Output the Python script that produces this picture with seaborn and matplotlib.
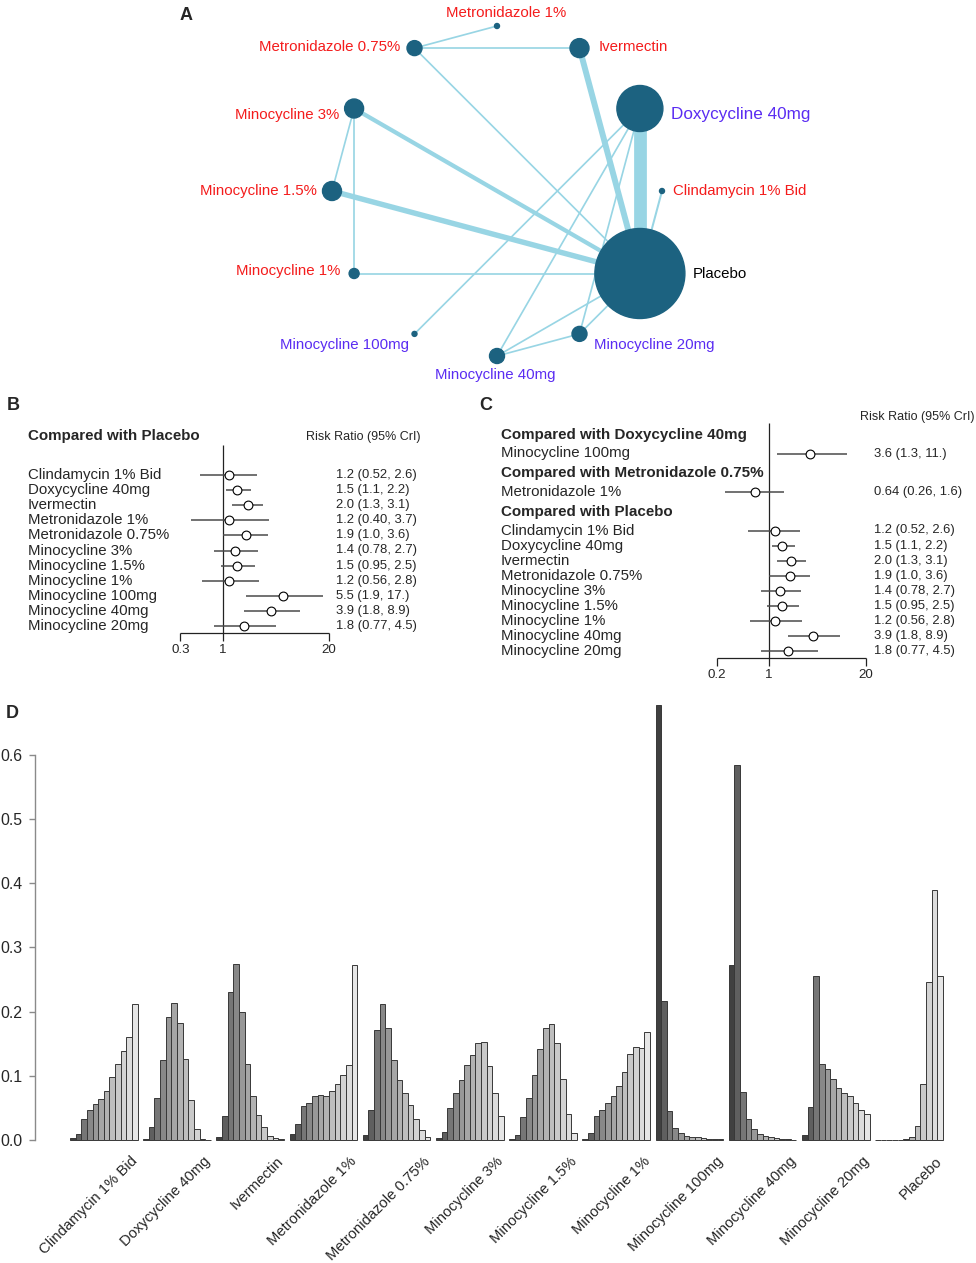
import numpy as np
import pandas as pd
import matplotlib
matplotlib.use("Agg")
import matplotlib.pyplot as plt
import seaborn as sns
from matplotlib.patches import Circle

sns.set_style("white")
plt.rcParams['font.family'] = ['Liberation Sans', 'DejaVu Sans']

W, H = 976, 1263

# ---------------- data: panel A (network) ----------------
net_nodes = ['Metronidazole 1%', 'Ivermectin', 'Doxycycline 40mg', 'Clindamycin 1% Bid',
             'Placebo', 'Minocycline 20mg', 'Minocycline 40mg', 'Minocycline 100mg',
             'Minocycline 1%', 'Minocycline 1.5%', 'Minocycline 3%', 'Metronidazole 0.75%']
net_size = [2.5, 9.5, 23, 2.5, 45, 7.5, 7.5, 2.5, 5, 9.5, 9.5, 7.5]
net_group = ['topical', 'topical', 'oral', 'topical', 'placebo', 'oral', 'oral', 'oral',
             'topical', 'topical', 'topical', 'topical']
edge_from = ['Metronidazole 0.75%', 'Metronidazole 0.75%', 'Metronidazole 0.75%', 'Ivermectin',
             'Doxycycline 40mg', 'Doxycycline 40mg', 'Doxycycline 40mg', 'Doxycycline 40mg',
             'Clindamycin 1% Bid', 'Minocycline 3%', 'Minocycline 3%', 'Minocycline 3%',
             'Minocycline 1.5%', 'Minocycline 1%', 'Minocycline 20mg', 'Minocycline 40mg',
             'Minocycline 40mg']
edge_to = ['Metronidazole 1%', 'Ivermectin', 'Placebo', 'Placebo',
           'Placebo', 'Minocycline 100mg', 'Minocycline 40mg', 'Minocycline 20mg',
           'Placebo', 'Placebo', 'Minocycline 1.5%', 'Minocycline 1%',
           'Placebo', 'Placebo', 'Placebo', 'Placebo',
           'Minocycline 20mg']
edge_weight = [1, 1, 1, 3.5, 7.5, 1, 1, 1, 1.2, 2.5, 1, 1, 3.2, 1, 1, 1, 1]

# ---------------- data: panel B (vs placebo) ----------------
b_names = ['Clindamycin 1% Bid', 'Doxycycline 40mg', 'Ivermectin', 'Metronidazole 1%',
           'Metronidazole 0.75%', 'Minocycline 3%', 'Minocycline 1.5%', 'Minocycline 1%',
           'Minocycline 100mg', 'Minocycline 40mg', 'Minocycline 20mg']
b_est = [1.2, 1.5, 2.0, 1.2, 1.9, 1.4, 1.5, 1.2, 5.5, 3.9, 1.8]
b_lo = [0.52, 1.1, 1.3, 0.40, 1.0, 0.78, 0.95, 0.56, 1.9, 1.8, 0.77]
b_hi = [2.6, 2.2, 3.1, 3.7, 3.6, 2.7, 2.5, 2.8, 17, 8.9, 4.5]
b_text = ['1.2 (0.52, 2.6)', '1.5 (1.1, 2.2)', '2.0 (1.3, 3.1)', '1.2 (0.40, 3.7)',
          '1.9 (1.0, 3.6)', '1.4 (0.78, 2.7)', '1.5 (0.95, 2.5)', '1.2 (0.56, 2.8)',
          '5.5 (1.9, 17.)', '3.9 (1.8, 8.9)', '1.8 (0.77, 4.5)']

# ---------------- data: panel C (vs several references) ----------------
c_ref = ['Doxycycline 40mg', 'Metronidazole 0.75%'] + ['Placebo'] * 9
c_names = ['Minocycline 100mg', 'Metronidazole 1%', 'Clindamycin 1% Bid', 'Doxycycline 40mg',
           'Ivermectin', 'Metronidazole 0.75%', 'Minocycline 3%', 'Minocycline 1.5%',
           'Minocycline 1%', 'Minocycline 40mg', 'Minocycline 20mg']
c_est = [3.6, 0.64, 1.2, 1.5, 2.0, 1.9, 1.4, 1.5, 1.2, 3.9, 1.8]
c_lo = [1.3, 0.26, 0.52, 1.1, 1.3, 1.0, 0.78, 0.95, 0.56, 1.8, 0.77]
c_hi = [11, 1.6, 2.6, 2.2, 3.1, 3.6, 2.7, 2.5, 2.8, 8.9, 4.5]
c_text = ['3.6 (1.3, 11.)', '0.64 (0.26, 1.6)', '1.2 (0.52, 2.6)', '1.5 (1.1, 2.2)',
          '2.0 (1.3, 3.1)', '1.9 (1.0, 3.6)', '1.4 (0.78, 2.7)', '1.5 (0.95, 2.5)',
          '1.2 (0.56, 2.8)', '3.9 (1.8, 8.9)', '1.8 (0.77, 4.5)']

# ---------------- data: panel D (rank probabilities) ----------------
treatments = ['Clindamycin 1% Bid', 'Doxycycline 40mg', 'Ivermectin', 'Metronidazole 1%',
              'Metronidazole 0.75%', 'Minocycline 3%', 'Minocycline 1.5%', 'Minocycline 1%',
              'Minocycline 100mg', 'Minocycline 40mg', 'Minocycline 20mg', 'Placebo']
p_clinda = [0.003, 0.010, 0.033, 0.046, 0.056, 0.064, 0.077, 0.098, 0.119, 0.139, 0.160, 0.212]
p_doxy = [0.001, 0.020, 0.065, 0.125, 0.191, 0.213, 0.182, 0.127, 0.062, 0.017, 0.002, 0.000]
p_iver = [0.004, 0.038, 0.231, 0.274, 0.200, 0.119, 0.069, 0.039, 0.021, 0.007, 0.003, 0.001]
p_met1 = [0.009, 0.025, 0.053, 0.057, 0.069, 0.070, 0.069, 0.077, 0.088, 0.102, 0.117, 0.273]
p_met075 = [0.008, 0.047, 0.171, 0.212, 0.175, 0.124, 0.094, 0.073, 0.055, 0.032, 0.016, 0.004]
p_mino3 = [0.003, 0.012, 0.050, 0.073, 0.094, 0.117, 0.132, 0.151, 0.152, 0.116, 0.073, 0.038]
p_mino15 = [0.002, 0.008, 0.036, 0.066, 0.102, 0.142, 0.174, 0.180, 0.151, 0.095, 0.041, 0.011]
p_mino1 = [0.002, 0.011, 0.037, 0.046, 0.057, 0.069, 0.084, 0.106, 0.134, 0.145, 0.144, 0.169]
p_mino100 = [0.678, 0.217, 0.045, 0.019, 0.011, 0.007, 0.005, 0.004, 0.003, 0.002, 0.002, 0.001]
p_mino40 = [0.273, 0.584, 0.075, 0.033, 0.017, 0.009, 0.006, 0.004, 0.003, 0.002, 0.001, 0.000]
p_mino20 = [0.008, 0.052, 0.256, 0.119, 0.110, 0.095, 0.081, 0.073, 0.068, 0.057, 0.046, 0.040]
p_placebo = [0.000, 0.000, 0.000, 0.000, 0.000, 0.001, 0.004, 0.022, 0.088, 0.246, 0.389, 0.255]
rank_probs = [p_clinda, p_doxy, p_iver, p_met1, p_met075, p_mino3, p_mino15, p_mino1,
              p_mino100, p_mino40, p_mino20, p_placebo]

# ---------------- figure ----------------
fig = plt.figure(figsize=(W / 100, H / 100), dpi=100)


def px_axes(x0, y0, x1, y1):
    return fig.add_axes([x0 / W, 1 - y1 / H, (x1 - x0) / W, (y1 - y0) / H])


def fig_text(x, y, s, **kw):
    fig.text(x / W, 1 - y / H, s, **kw)


RED = '#f41c1c'
PURPLE = '#5a2cf2'
label_color = {'topical': RED, 'oral': PURPLE, 'placebo': 'black'}

# ---- Panel A: network on a circle ----
axA = px_axes(0, 0, W, 395)
axA.set_xlim(0, W)
axA.set_ylim(395, 0)
axA.axis('off')
cx, cy, rad = 497, 191, 165
angles = np.deg2rad(90 - 30 * np.arange(len(net_nodes)))
pos = {n: (cx + rad * np.cos(a), cy - rad * np.sin(a)) for n, a in zip(net_nodes, angles)}

for a, b, w in zip(edge_from, edge_to, edge_weight):
    (x1, y1), (x2, y2) = pos[a], pos[b]
    axA.plot([x1, x2], [y1, y2], color='#98d5e4', lw=w * 1.7 * 0.72,
             solid_capstyle='butt', zorder=1)

for n, r in zip(net_nodes, net_size):
    axA.add_patch(Circle(pos[n], r, color='#1c6280', zorder=2))

# label offsets (px) and alignment around each node
label_style = {
    'Metronidazole 1%': (9, -13, 'center'),
    'Ivermectin': (19, -1, 'left'),
    'Doxycycline 40mg': (31, 6, 'left'),
    'Clindamycin 1% Bid': (11, 0, 'left'),
    'Placebo': (53, 0, 'left'),
    'Minocycline 20mg': (14, 11, 'left'),
    'Minocycline 40mg': (-2, 19, 'center'),
    'Minocycline 100mg': (-6, 11, 'right'),
    'Minocycline 1%': (-14, -3, 'right'),
    'Minocycline 1.5%': (-15, 0, 'right'),
    'Minocycline 3%': (-15, 7, 'right'),
    'Metronidazole 0.75%': (-14, -1, 'right'),
}
for n, g in zip(net_nodes, net_group):
    dx, dy, ha = label_style[n]
    x, y = pos[n]
    fs = 12.3 if n == 'Doxycycline 40mg' else 10.8
    axA.text(x + dx, y + dy, n, ha=ha, va='center', fontsize=fs, color=label_color[g])

fig_text(186, 15, 'A', fontsize=13, fontweight='bold', ha='center', va='center')


# ---- forest plot helper ----
def forest(ax, names, est, lo, hi, texts, ys, one_px, dec_px, x0, x1,
           label_px, value_px, vline, axis_y, ticks):
    ax.set_xscale('log')
    ax.set_xlim(10 ** ((x0 - one_px) / dec_px), 10 ** ((x1 - one_px) / dec_px))
    ax.axis('off')
    tx = lambda p: 10 ** ((p - one_px) / dec_px)
    ax.vlines(1, vline[0], vline[1], color='#222222', lw=0.9)
    ax.hlines(axis_y, ticks[0], ticks[-1], color='#222222', lw=0.9)
    ax.vlines(ticks, axis_y, axis_y + 8, color='#222222', lw=0.9)
    for t in ticks:
        ax.text(t, axis_y + 17, f'{t:g}', ha='center', va='center', fontsize=9.6)
    ax.hlines(ys, lo, hi, color='#4a4a4a', lw=1.1, zorder=2)
    sns.scatterplot(x=est, y=ys, ax=ax, marker='o', s=40, color='white',
                    edgecolor='black', linewidth=0.8, zorder=3, legend=False)
    for n, t, y in zip(names, texts, ys):
        ax.text(tx(label_px), y, n, ha='left', va='center', fontsize=10.8)
        ax.text(tx(value_px), y, t, ha='left', va='center', fontsize=9.4)
    ax.set_xlabel('')
    ax.set_ylabel('')
    return tx


# ---- Panel B ----
axB = px_axes(0, 400, 480, 700)
axB.set_ylim(700, 400)
b_y = [475 + 15.1 * i for i in range(len(b_names))]
txB = forest(axB, b_names, b_est, b_lo, b_hi, b_text, b_y, 223, 81.5, 0, 480,
             28, 336, (445, 633), 633, [0.3, 1, 20])
axB.set_ylim(700, 400)
axB.text(txB(28), 436, 'Compared with Placebo', ha='left', va='center',
         fontsize=10.9, fontweight='bold')
axB.text(txB(306), 437, 'Risk Ratio (95% CrI)', ha='left', va='center', fontsize=9)
fig_text(13, 405, 'B', fontsize=13, fontweight='bold', ha='center', va='center')

# ---- Panel C ----
axC = px_axes(480, 400, W, 700)
axC.set_ylim(700, 400)
c_y, header_y = [], []
y = 435
prev = None
for i, ref in enumerate(c_ref):
    if ref != prev:
        header_y.append((y, ref))
        y += 18.5
        prev = ref
    c_y.append(y)
    nxt = c_ref[i + 1] if i + 1 < len(c_ref) else None
    y += 20 if (nxt is not None and nxt != ref) else 15.1
txC = forest(axC, c_names, c_est, c_lo, c_hi, c_text, c_y, 769, 74.5, 480, W,
             501, 874, (423, 658), 658, [0.2, 1, 20])
axC.set_ylim(700, 400)
for hy, ref in header_y:
    axC.text(txC(501), hy, f'Compared with {ref}', ha='left', va='center',
             fontsize=10.9, fontweight='bold')
axC.text(txC(860), 417, 'Risk Ratio (95% CrI)', ha='left', va='center', fontsize=9)
fig_text(486, 405, 'C', fontsize=13, fontweight='bold', ha='center', va='center')

# ---- Panel D: rank probabilities ----
rows = []
for t, probs in zip(treatments, rank_probs):
    for r, p in enumerate(probs, start=1):
        rows.append({'treatment': t, 'rank': str(r), 'prob': p})
df = pd.DataFrame(rows)

n_rank = 12
lv = np.linspace(0.25 ** 2.2, 0.9 ** 2.2, n_rank) ** (1 / 2.2)
grays = [(v, v, v) for v in lv]

pitch = 73.2      # px per treatment group
left0 = 70        # px of first bar's left edge
half = (n_rank / (n_rank + 1)) / 2
x_lo = (35 - left0) / pitch - half
x_hi = (955 - left0) / pitch - half
y_scale = 641.7   # px per unit probability, 0 at y=1140
ytop, ybot = 0.69, -0.0047
axD = px_axes(35, 1140 - ytop * y_scale, 955, 1140 - ybot * y_scale)
sns.barplot(data=df, x='treatment', y='prob', hue='rank', order=treatments,
            hue_order=[str(i) for i in range(1, n_rank + 1)], palette=grays,
            width=n_rank / (n_rank + 1), gap=0, edgecolor='#383838', linewidth=0.7,
            errorbar=None, legend=False, ax=axD)
axD.set_xlim(x_lo, x_hi)
axD.set_ylim(ybot, ytop)
for s in ['top', 'right', 'bottom']:
    axD.spines[s].set_visible(False)
axD.spines['left'].set_bounds(0, 0.6)
axD.spines['left'].set_color('#8a8a8a')
axD.spines['left'].set_linewidth(1)
axD.set_yticks(np.arange(0, 0.61, 0.1))
axD.set_yticklabels([f'{v:.1f}' for v in np.arange(0, 0.61, 0.1)], fontsize=11.4)
axD.tick_params(axis='y', direction='out', length=4, width=1, color='#8a8a8a', pad=5,
                left=True)
axD.set_xticks(np.arange(len(treatments)) + 0.36)
axD.set_xticklabels(treatments, rotation=45, ha='right', rotation_mode='anchor',
                    fontsize=10.6)
axD.tick_params(axis='x', length=0, pad=8)
axD.set_xlabel('')
axD.set_ylabel('')
axD.patch.set_alpha(0)
for p in axD.patches:
    p.set_clip_on(False)
fig_text(12, 714, 'D', fontsize=13, fontweight='bold', ha='center', va='center')

fig.savefig('out.png', dpi=100)
